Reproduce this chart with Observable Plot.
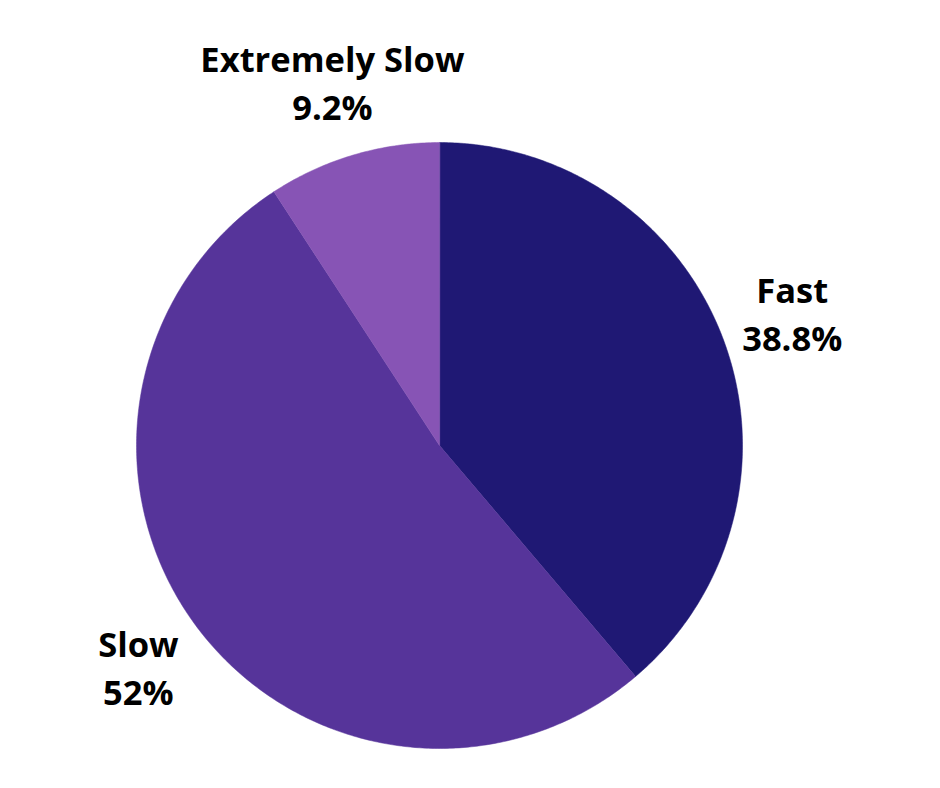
<!DOCTYPE html>
<html>
<head>
<meta charset="utf-8">
<script src="https://cdn.jsdelivr.net/npm/d3@7"></script>
<script src="https://cdn.jsdelivr.net/npm/@observablehq/plot@0.6"></script>
<style>
  html, body { margin: 0; padding: 0; background: #ffffff; }
  #chart { width: 940px; height: 788px; }
</style>
</head>
<body>
<div id="chart"></div>
<script>
const categories = ["Fast", "Slow", "Extremely Slow"];
const values = [38.8, 52, 9.2];
const labels = ["38.8%", "52%", "9.2%"];
const colors = ["#1f1874", "#56349a", "#8754b5"];

const pie = d3.pie().sort(null).value(d => d)(values);

// polygon vertices for each slice (unit circle, angle clockwise from top)
const slicePoints = [];
pie.forEach((a, i) => {
  slicePoints.push({cat: categories[i], x: 0, y: 0, k: 0});
  const n = Math.max(2, Math.ceil((a.endAngle - a.startAngle) / 0.01));
  for (let j = 0; j <= n; j++) {
    const t = a.startAngle + (a.endAngle - a.startAngle) * j / n;
    slicePoints.push({cat: categories[i], x: Math.sin(t), y: Math.cos(t), k: j + 1});
  }
});

const labelR = 1.24;
const labelData = pie.map((a, i) => {
  const m = (a.startAngle + a.endAngle) / 2;
  return {cat: categories[i], pct: labels[i], x: labelR * Math.sin(m), y: labelR * Math.cos(m)};
});

const chart = Plot.plot({
  width: 940,
  height: 788,
  marginLeft: 136,
  marginRight: 198,
  marginTop: 142,
  marginBottom: 40,
  x: {domain: [-1, 1], axis: null},
  y: {domain: [-1, 1], axis: null},
  color: {domain: categories, range: colors},
  style: {fontFamily: "'Open Sans', sans-serif", background: "#ffffff", overflow: "visible"},
  marks: [
    Plot.line(slicePoints, {x: "x", y: "y", z: "cat", fill: "cat", stroke: "cat", strokeWidth: 0.5, curve: "linear-closed"}),
    Plot.text(labelData, {x: "x", y: "y", text: "cat", dy: -24, fontSize: 34.5, fontWeight: "bold", fill: "#000000"}),
    Plot.text(labelData, {x: "x", y: "y", text: "pct", dy: 24, fontSize: 34.5, fontWeight: "bold", fill: "#000000"})
  ]
});
document.getElementById("chart").appendChild(chart);
</script>
</body>
</html>
